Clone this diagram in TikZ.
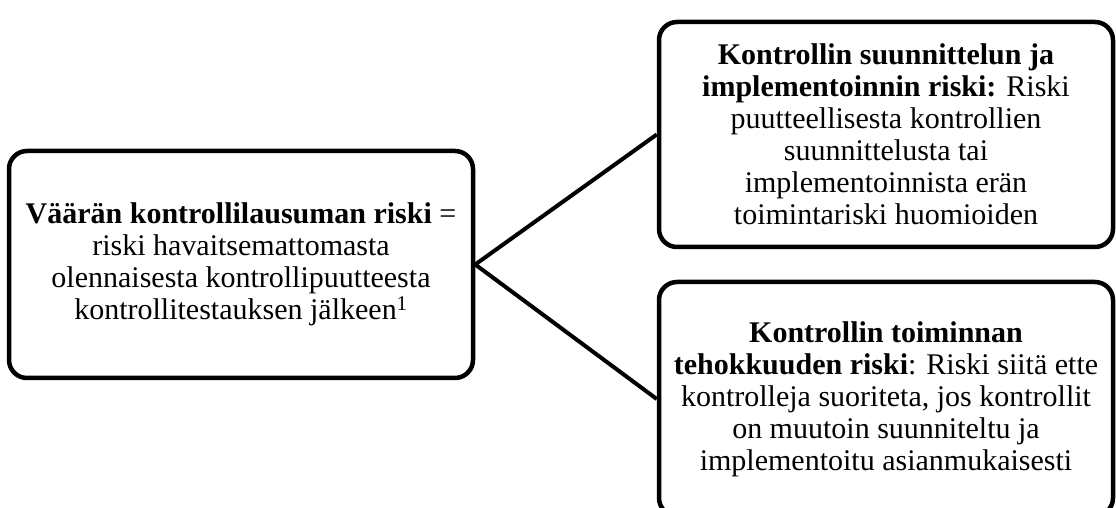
\documentclass[tikz,border=0pt]{standalone}
\usepackage{fontspec}
\setmainfont{Liberation Serif}
\begin{document}
\begin{tikzpicture}[x=1pt,y=1pt,
  riskbox/.style={draw=black, line width=4.5pt, rounded corners=18pt, fill=white,
    align=center, inner sep=0pt, font=\fontsize{30}{32}\selectfont},
  link/.style={draw=black, line width=4pt}]
\useasboundingbox (0,0) rectangle (1116,508);

\node[riskbox, minimum width=464pt, minimum height=227pt] (main) at (241,243.5)
  {\textbf{Väärän kontrollilausuman riski} =\\
   riski havaitsemattomasta\\
   olennaisesta kontrollipuutteesta\\
   kontrollitestauksen jälkeen\textsuperscript{1}};

\node[riskbox, minimum width=454pt, minimum height=225pt] (design) at (886,373.5)
  {\textbf{Kontrollin suunnittelun ja}\\
   \textbf{implementoinnin riski:} Riski\\
   puutteellisesta kontrollien\\
   suunnittelusta tai\\
   implementoinnista erän\\
   toimintariski huomioiden};

\node[riskbox, minimum width=454pt, minimum height=234pt] (operate) at (886,109)
  {\textbf{Kontrollin toiminnan}\\
   \textbf{tehokkuuden riski}: Riski siitä ette\\
   kontrolleja suoriteta, jos kontrollit\\
   on muutoin suunniteltu ja\\
   implementoitu asianmukaisesti};

\draw[link] (main.east) -- (design.west);
\draw[link] (main.east) -- (operate.west);
\end{tikzpicture}
\end{document}
